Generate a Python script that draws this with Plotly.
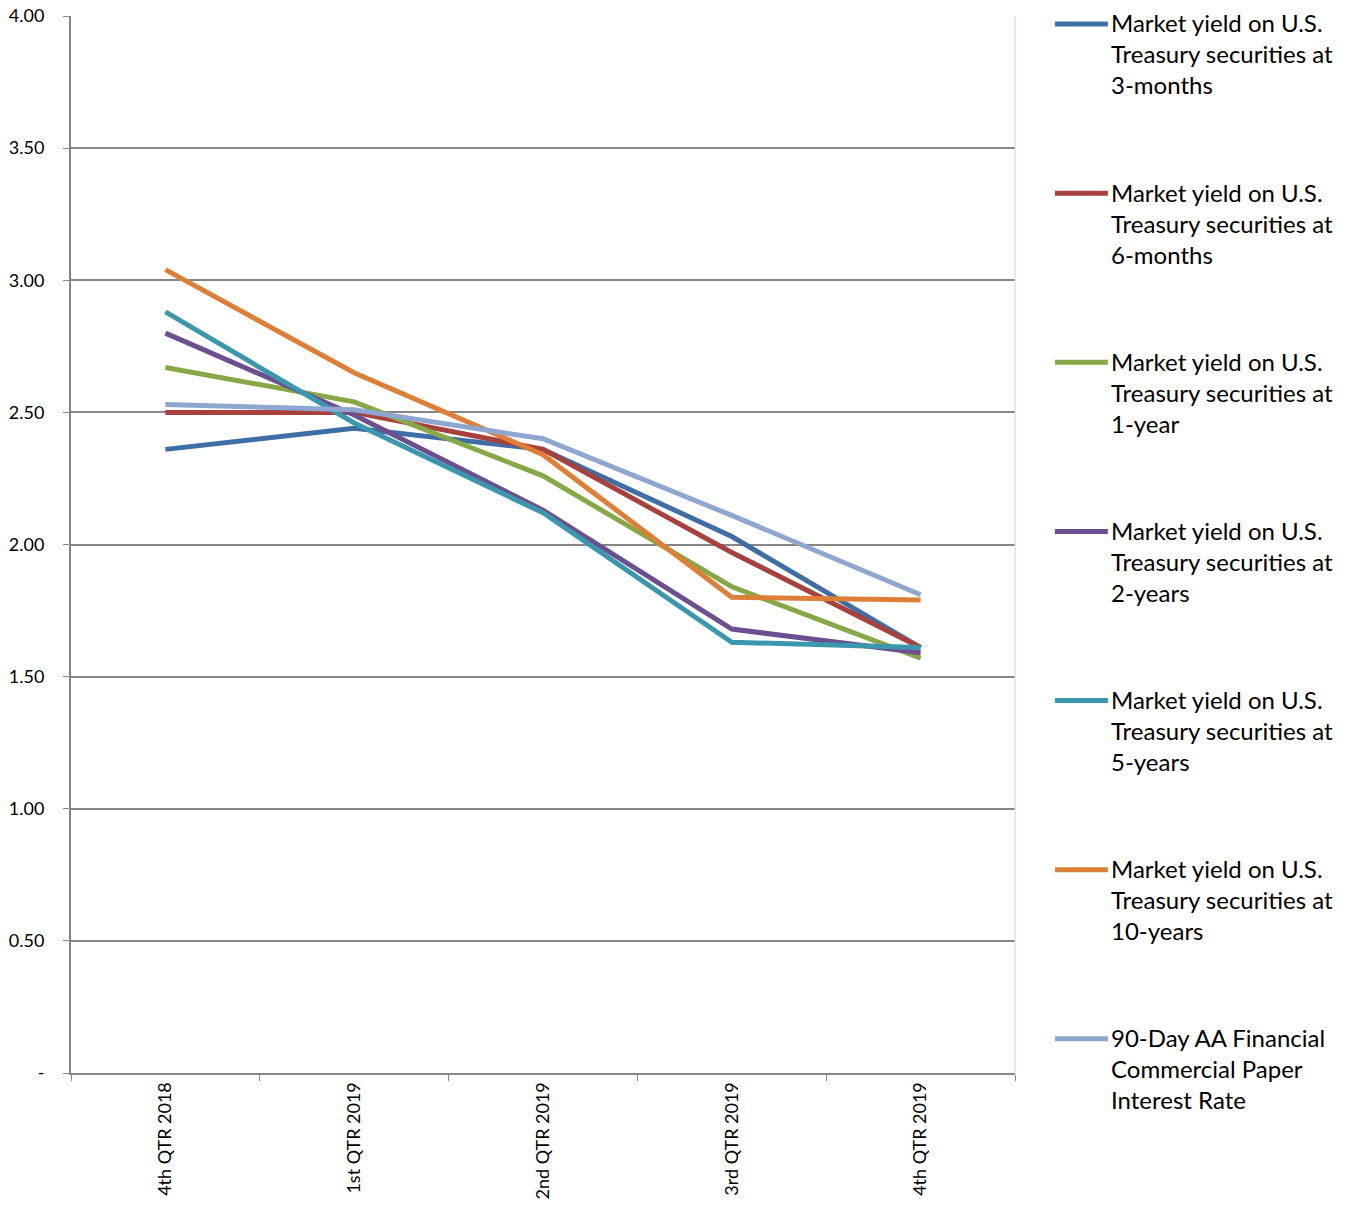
import plotly.graph_objects as go

# Quarterly averages of market yields and commercial paper rates (percent)
quarters = ["4th QTR 2018", "1st QTR 2019", "2nd QTR 2019", "3rd QTR 2019", "4th QTR 2019"]

series_names = [
    "Market yield on U.S.<br>Treasury securities at<br>3-months",
    "Market yield on U.S.<br>Treasury securities at<br>6-months",
    "Market yield on U.S.<br>Treasury securities at<br>1-year",
    "Market yield on U.S.<br>Treasury securities at<br>2-years",
    "Market yield on U.S.<br>Treasury securities at<br>5-years",
    "Market yield on U.S.<br>Treasury securities at<br>10-years",
    "90-Day AA Financial<br>Commercial Paper<br>Interest Rate",
]

yield_3m = [2.36, 2.44, 2.36, 2.03, 1.61]
yield_6m = [2.50, 2.50, 2.36, 1.97, 1.61]
yield_1y = [2.67, 2.54, 2.26, 1.84, 1.57]
yield_2y = [2.80, 2.49, 2.13, 1.68, 1.59]
yield_5y = [2.88, 2.46, 2.12, 1.63, 1.61]
yield_10y = [3.04, 2.65, 2.34, 1.80, 1.79]
cp_90d = [2.53, 2.51, 2.40, 2.11, 1.81]

series_values = [yield_3m, yield_6m, yield_1y, yield_2y, yield_5y, yield_10y, cp_90d]
series_colors = ["#3F6EA7", "#A8403C", "#87A846", "#6C4F8F", "#3B97AE", "#DD7F36", "#8DA7D1"]

y_tick_values = [0, 0.5, 1.0, 1.5, 2.0, 2.5, 3.0, 3.5, 4.0]
y_tick_labels = ["-", "0.50", "1.00", "1.50", "2.00", "2.50", "3.00", "3.50", "4.00"]

FONT = "Lato, 'Liberation Sans', sans-serif"

fig = go.Figure()
for name, vals, color in zip(series_names, series_values, series_colors):
    fig.add_trace(go.Scatter(
        x=quarters, y=vals, mode="lines", name=name,
        line=dict(color=color, width=5), showlegend=False,
    ))

# Legend drawn on the right: a short line swatch followed by a wrapped label
swatch_top = 0.9924
text_top = 1.0091
legend_step = 0.16
for i, (name, color) in enumerate(zip(series_names, series_colors)):
    fig.add_shape(type="line", xref="paper", yref="paper",
                  x0=1.0423, x1=1.0984,
                  y0=swatch_top - i * legend_step, y1=swatch_top - i * legend_step,
                  line=dict(color=color, width=5))
    fig.add_annotation(xref="paper", yref="paper", x=1.0995,
                       y=text_top - i * legend_step,
                       xanchor="left", yanchor="top", align="left",
                       text=name, showarrow=False,
                       font=dict(family=FONT, size=24, color="#000000"))

# Faint right-hand border of the plotting area
fig.add_shape(type="line", xref="paper", yref="paper", x0=1, x1=1, y0=0, y1=1,
              line=dict(color="#C5D3E6", width=1))

fig.update_layout(
    width=1354, height=1205,
    margin=dict(l=71, r=339, t=16, b=132),
    paper_bgcolor="white", plot_bgcolor="white",
    font=dict(family=FONT, size=18, color="#000000"),
)
fig.update_xaxes(
    type="category", range=[-0.5, 4.5], tickson="boundaries",
    ticks="outside", ticklen=6, tickcolor="#868686",
    showline=True, linecolor="#868686", linewidth=2,
    showgrid=False, tickangle=-90, tickfont=dict(size=18),
    automargin=False,
)
fig.update_yaxes(
    range=[0, 4.0], tickvals=y_tick_values, ticktext=y_tick_labels,
    ticks="outside", ticklen=6, tickcolor="#868686",
    showline=True, linecolor="#868686", linewidth=2,
    showgrid=True, gridcolor="#868686", gridwidth=1.5,
    zeroline=False, tickfont=dict(size=18), ticklabelstandoff=15,
    automargin=False,
)

fig.write_html("out.html")
